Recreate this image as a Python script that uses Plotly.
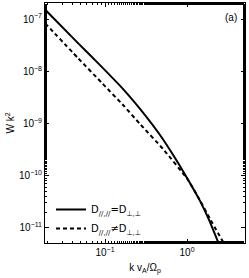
import plotly.graph_objects as go

# data (k v_A / Omega_p, W k^2)
k_equal = [0.01855, 0.04685, 0.0869, 0.1705, 0.3075, 0.4686, 0.7141, 1.0, 1.440, 1.855, 2.388]
w_equal = [1.533e-7, 3.473e-8, 1.317e-8, 4.376e-9, 1.454e-9, 6.025e-10, 2.186e-10,
           9.056e-11, 3.286e-11, 1.422e-11, 5.397e-12]

k_unequal = [0.01855, 0.04685, 0.09192, 0.1705, 0.2672, 0.5096, 1.028, 1.362, 1.908, 2.748]
w_unequal = [8.385e-8, 1.793e-8, 5.959e-9, 2.162e-9, 9.781e-10, 3.251e-10, 8.293e-11,
             3.920e-11, 1.486e-11, 5.397e-12]

x_tickvals = [0.1, 1.0]
x_ticktext = ["10<sup>−1</sup>", "10<sup>0</sup>"]
y_tickvals = [1e-11, 1e-10, 1e-9, 1e-8, 1e-7]
y_ticktext = ["10<sup>−11</sup>", "10<sup>−10</sup>", "10<sup>−9</sup>", "10<sup>−8</sup>", "10<sup>−7</sup>"]

name_equal = "D<sub>//,//</sub>=D<sub>⊥,⊥</sub>"
name_unequal = "D<sub>//,//</sub>≠D<sub>⊥,⊥</sub>"

fig = go.Figure()
fig.add_trace(go.Scatter(x=k_equal, y=w_equal, mode="lines", name=name_equal,
                         line=dict(color="black", width=2, shape="spline", smoothing=0.5)))
fig.add_trace(go.Scatter(x=k_unequal, y=w_unequal, mode="lines", name=name_unequal,
                         line=dict(color="black", width=2, dash="4px,3px",
                                   shape="spline", smoothing=0.5)))

font = dict(family="Liberation Sans, Arial, sans-serif", size=10, color="black")
legend_font = dict(family="DejaVu Sans, Liberation Sans, sans-serif", size=10, color="black")
axis_common = dict(type="log", showgrid=False, zeroline=False, showline=True,
                   linecolor="black", linewidth=1, mirror="allticks", ticks="inside",
                   ticklen=4, tickcolor="black",
                   minor=dict(ticks="inside", ticklen=2, tickcolor="black", showgrid=False),
                   tickfont=font)

fig.update_layout(
    width=249, height=278,
    margin=dict(l=45, r=4, t=3, b=35),
    paper_bgcolor="white", plot_bgcolor="white",
    font=font,
    showlegend=True,
    legend=dict(x=0.03, y=0.0, xanchor="left", yanchor="bottom",
                bgcolor="rgba(0,0,0,0)", font=legend_font, itemwidth=30,
                tracegroupgap=0),
    xaxis=dict(axis_common, range=[-1.732, 0.707], tickvals=x_tickvals, ticktext=x_ticktext,
               title=dict(text="k v<sub>A</sub>/Ω<sub>p</sub>", font=font, standoff=6)),
    yaxis=dict(axis_common, range=[-11.29, -6.69], tickvals=y_tickvals, ticktext=y_ticktext,
               title=dict(text="W k<sup>2</sup>", font=font, standoff=2)),
    annotations=[dict(text="(a)", x=0.97, y=0.97, xref="paper", yref="paper",
                      xanchor="right", yanchor="top", showarrow=False, font=font)],
)

fig.write_html("out.html", config={"displayModeBar": False},
               post_script="document.body.style.margin='0';")
